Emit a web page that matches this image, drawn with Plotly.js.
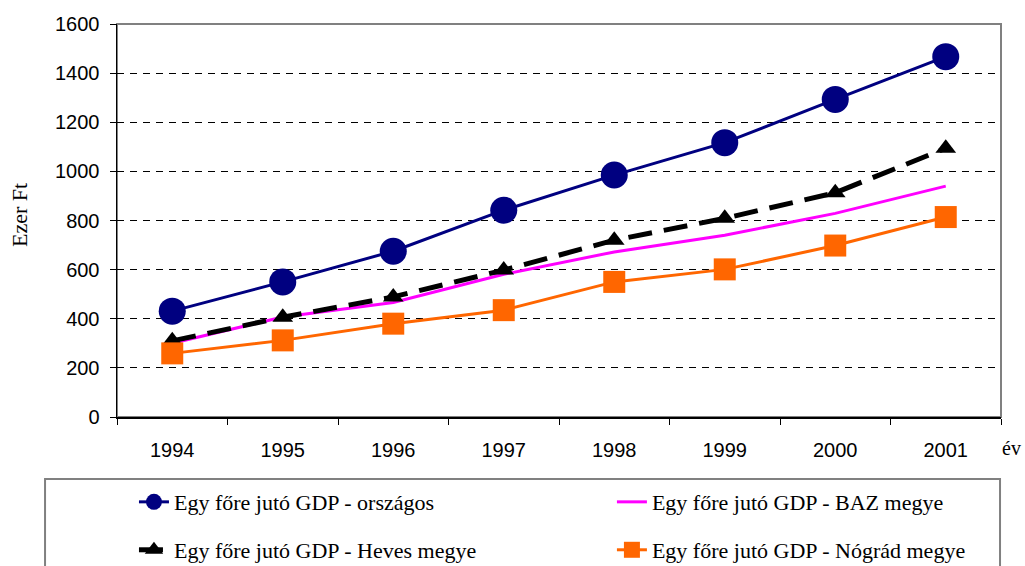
<!DOCTYPE html>
<html>
<head>
<meta charset="utf-8">
<script src="https://cdn.plot.ly/plotly-3.0.1.min.js"></script>
<style>html,body{margin:0;padding:0;background:#fff;}#chart{width:1025px;height:566px;}</style>
</head>
<body>
<div id="chart"></div>
<script>
const years = ['1994', '1995', '1996', '1997', '1998', '1999', '2000', '2001'];
const orszagos = [431, 550, 675, 842, 985, 1117, 1293, 1467];
const baz = [300, 407, 466, 581, 672, 740, 829, 940];
const heves = [310, 406, 489, 598, 720, 809, 913, 1094];
const nograd = [259, 312, 380, 435, 550, 601, 698, 814];
const yTicks = [0, 200, 400, 600, 800, 1000, 1200, 1400, 1600];
const names = [
  'Egy főre jutó GDP - országos',
  'Egy főre jutó GDP - BAZ megye',
  'Egy főre jutó GDP - Heves megye',
  'Egy főre jutó GDP - Nógrád megye'
];

const traces = [
  {x: years, y: orszagos, name: names[0], type: 'scatter', mode: 'lines+markers',
   line: {color: '#000080', width: 3}, marker: {symbol: 'circle', size: 27, color: '#000080'}, legend: 'legend'},
  {x: years, y: baz, name: names[1], type: 'scatter', mode: 'lines',
   line: {color: '#FF00FF', width: 3}, legend: 'legend2'},
  {x: years, y: heves, name: names[2], type: 'scatter', mode: 'lines+markers',
   line: {color: '#000000', width: 5, dash: '24px,12px'}, marker: {symbol: 'triangle-up', size: 18, color: '#000000'}, legend: 'legend3'},
  {x: years, y: nograd, name: names[3], type: 'scatter', mode: 'lines+markers',
   line: {color: '#FF6600', width: 3}, marker: {symbol: 'square', size: 22, color: '#FF6600'}, legend: 'legend4'}
];

const serif = 'Liberation Serif, Times New Roman, serif';
const sans = 'Liberation Sans, Arial, sans-serif';
const legendCommon = {
  orientation: 'v', xanchor: 'left', yanchor: 'middle', xref: 'container', yref: 'container',
  font: {family: serif, size: 22, color: '#000'},
  bgcolor: 'rgba(0,0,0,0)', borderwidth: 0, itemclick: false
};

const layout = {
  width: 1025, height: 566,
  margin: {l: 117, r: 24, t: 24, b: 149, autoexpand: false},
  paper_bgcolor: '#fff', plot_bgcolor: '#fff',
  showlegend: true,
  xaxis: {
    type: 'category', categoryorder: 'array', categoryarray: years,
    range: [-0.5, 7.5], tickson: 'boundaries', ticks: 'outside', ticklen: 6, tickcolor: '#000', tickwidth: 1,
    showline: true, linecolor: '#000', linewidth: 1.5, showgrid: false, zeroline: false, automargin: false,
    tickfont: {family: sans, size: 20, color: '#000'}, ticklabelstandoff: 14, fixedrange: true
  },
  yaxis: {
    range: [0, 1600], tickvals: yTicks, ticktext: yTicks.map(String),
    ticks: 'outside', ticklen: 6, tickcolor: '#000', tickwidth: 1,
    showline: true, linecolor: '#000', linewidth: 1.5, automargin: false,
    showgrid: true, gridcolor: '#000', gridwidth: 1, griddash: '7px,6px', zeroline: false,
    tickfont: {family: sans, size: 20, color: '#000'}, ticklabelstandoff: 6, fixedrange: true
  },
  legend: Object.assign({}, legendCommon, {x: 0.1307, y: 0.113}),
  legend2: Object.assign({}, legendCommon, {x: 0.597, y: 0.113}),
  legend3: Object.assign({}, legendCommon, {x: 0.1307, y: 0.0283}),
  legend4: Object.assign({}, legendCommon, {x: 0.597, y: 0.0283}),
  shapes: [
    {type: 'rect', xref: 'paper', yref: 'paper', x0: 0, x1: 1, y0: 0, y1: 1,
     line: {color: '#808080', width: 2}, fillcolor: 'rgba(0,0,0,0)', layer: 'below'},
    {type: 'rect', xref: 'paper', yref: 'paper', x0: -0.0814, x1: 0.9989, y0: -0.42, y1: -0.158,
     line: {color: '#808080', width: 2}, fillcolor: 'rgba(0,0,0,0)', layer: 'below'}
  ],
  annotations: [
    {text: 'Ezer Ft', xref: 'paper', yref: 'paper', x: -0.1097, y: 0.514, showarrow: false, textangle: -90,
     xanchor: 'center', yanchor: 'middle', font: {family: serif, size: 22, color: '#000'}},
    {text: 'év', xref: 'paper', yref: 'paper', x: 1.0124, y: -0.08, showarrow: false,
     xanchor: 'center', yanchor: 'middle', font: {family: serif, size: 20, color: '#000'}}
  ]
};

Plotly.newPlot('chart', traces, layout, {displayModeBar: false, staticPlot: true});
</script>
</body>
</html>
